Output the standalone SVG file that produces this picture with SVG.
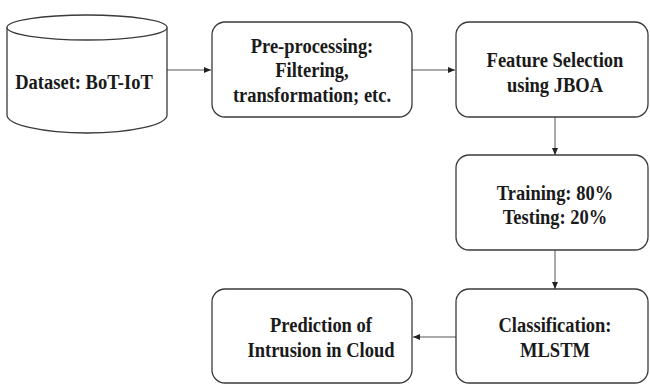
<svg xmlns="http://www.w3.org/2000/svg" width="650" height="385" viewBox="0 0 650 385">
<defs>
<style>
.box{fill:#fff;stroke:#3a3a3a;stroke-width:1.3}
.lbl{fill:#1a1a1a;text-anchor:middle}
.con{stroke:#555;stroke-width:1;fill:none}
</style>
<marker id="ah" markerWidth="8" markerHeight="8" refX="7" refY="4" orient="auto" markerUnits="userSpaceOnUse">
<path d="M0,1 L7,4 L0,7 Z" fill="#222"/>
</marker>
</defs>
<rect width="650" height="385" fill="#fff"/>
<g id="connectors">
<line class="con" x1="167" y1="70" x2="211" y2="70" marker-end="url(#ah)"/>
<line class="con" x1="412" y1="70" x2="455" y2="70" marker-end="url(#ah)"/>
<line class="con" x1="555" y1="117" x2="555" y2="155" marker-end="url(#ah)"/>
<line class="con" x1="555" y1="250" x2="555" y2="289" marker-end="url(#ah)"/>
<line class="con" x1="456" y1="337" x2="413" y2="337" marker-end="url(#ah)"/>
</g>
<g id="nodes" font-family="Liberation Serif, serif" font-weight="bold" font-size="18.5">
<g id="dataset">
<path class="box" d="M7,27.5 L7,115 A80,18 0 0 0 167,115 L167,27.5"/>
<ellipse class="box" cx="87" cy="27.5" rx="80" ry="12.5"/>
<text class="lbl" transform="translate(84,89) scale(1,1.17)">Dataset: BoT-IoT</text>
</g>
<g id="preprocessing">
<rect class="box" x="212" y="22" width="200" height="95" rx="13"/>
<text class="lbl" transform="translate(312,53) scale(1,1.17)">Pre-processing:</text>
<text class="lbl" transform="translate(312,77) scale(1,1.17)">Filtering,</text>
<text class="lbl" transform="translate(312,102) scale(1,1.17)">transformation; etc.</text>
</g>
<g id="feature">
<rect class="box" x="456" y="22" width="192" height="95" rx="13"/>
<text class="lbl" transform="translate(555,67) scale(1,1.17)">Feature Selection</text>
<text class="lbl" transform="translate(555,92) scale(1,1.17)">using JBOA</text>
</g>
<g id="training">
<rect class="box" x="456" y="155" width="192" height="95" rx="13"/>
<text class="lbl" transform="translate(555,200) scale(1,1.17)">Training: 80%</text>
<text class="lbl" transform="translate(555,224) scale(1,1.17)">Testing: 20%</text>
</g>
<g id="classification">
<rect class="box" x="456" y="289" width="192" height="94" rx="13"/>
<text class="lbl" transform="translate(555,332) scale(1,1.17)">Classification:</text>
<text class="lbl" transform="translate(555,357) scale(1,1.17)">MLSTM</text>
</g>
<g id="prediction">
<rect class="box" x="212" y="289" width="200" height="94" rx="13"/>
<text class="lbl" transform="translate(321,332) scale(1,1.17)">Prediction of</text>
<text class="lbl" transform="translate(321,357) scale(1,1.17)">Intrusion in Cloud</text>
</g>
</g>
</svg>
